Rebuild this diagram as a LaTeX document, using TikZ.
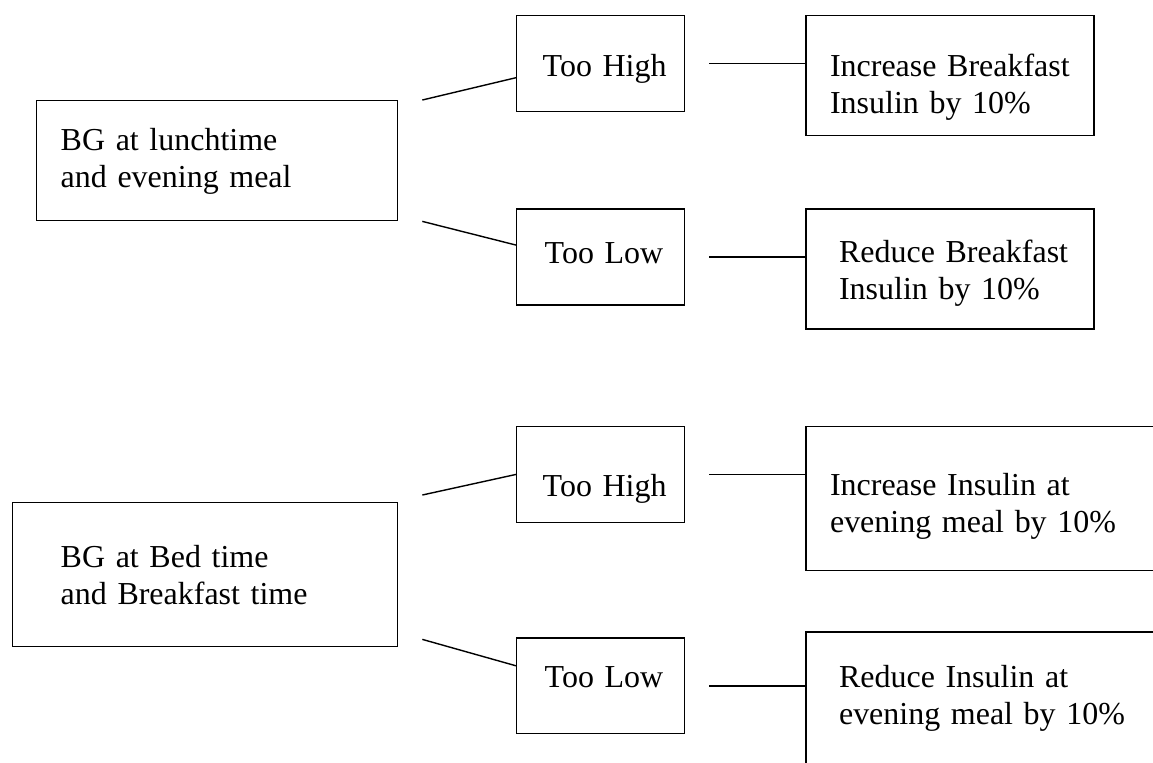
\documentclass[tikz,border=0pt]{standalone}
\usepackage{fontspec}
\setmainfont{Liberation Serif}
\usepackage{tikz}
\usetikzlibrary{positioning}
\hyphenpenalty=10000
\exhyphenpenalty=10000
\tikzset{
	box/.style={draw, line width=0.8pt, align=left, inner ysep=0pt, font=\fontsize{18.2pt}{21.06pt}\selectfont},
	link/.style={line width=0.8pt}
}

\begin{document}
\begin{tikzpicture}[x=0.02cm, y=-0.02cm]
		\useasboundingbox (0,0) rectangle (1153,762);
		\clip (0,0) rectangle (1153,762);
		% upper group
		\node[box, anchor=north west, text width=6.26cm, inner xsep=0.48cm, text height=1cm, text depth=1.4cm] (bg1) at (36,100) {BG at lunchtime\\ and evening meal};
		\node[box, anchor=north west, text width=2.32cm, inner xsep=0.52cm, text height=1.22cm, text depth=0.7cm] (hi1) at (516,15) {Too~High};
		\node[box, below=1.92cm of hi1.south west, anchor=north west, text width=2.24cm, inner xsep=0.56cm, text height=1.08cm, text depth=0.84cm] (lo1) {Too~Low};
		\node[box, right=2.4cm of hi1.north east, anchor=north west, text width=4.8cm, inner xsep=0.48cm, text height=1.22cm, text depth=1.18cm] (incb) {Increase~Breakfast\\ Insulin~by~10\%};
		\node[box, right=2.4cm of lo1.north east, anchor=north west, text width=4.44cm, inner xsep=0.66cm, text height=1.06cm, text depth=1.34cm] (redb) {Reduce~Breakfast\\ Insulin~by~10\%};
		% lower group
		\node[box, anchor=north west, text width=5.78cm, inner xsep=0.96cm, text height=1.3cm, text depth=1.58cm] (bg2) at (12,502) {BG at Bed time\\ and Breakfast time};
		\node[box, below=2.4cm of lo1.south west, anchor=north west, text width=2.32cm, inner xsep=0.52cm, text height=1.4cm, text depth=0.52cm] (hi2) {Too~High};
		\node[box, below=2.28cm of hi2.south west, anchor=north west, text width=2.24cm, inner xsep=0.56cm, text height=1cm, text depth=0.92cm] (lo2) {Too~Low};
		\node[box, right=2.4cm of hi2.north east, anchor=north west, text width=7.04cm, inner xsep=0.48cm, text height=1.38cm, text depth=1.5cm] (inci) {Increase~Insulin~at\\ evening~meal~by~10\%};
		\node[box, above right=0.12cm and 2.4cm of lo2.north east, anchor=north west, text width=6.68cm, inner xsep=0.66cm, text height=1.12cm, text depth=2.34cm] (redi) {Reduce~Insulin~at\\ evening~meal~by~10\%};
		\begin{scope}[every path/.style={link}]
		  \draw ([xshift=0.48cm]bg1.north east) -- ([yshift=-0.28cm]hi1.west);
		  \draw ([xshift=0.48cm]bg1.south east) -- ([yshift=0.24cm]lo1.west);
		  \draw ([xshift=0.48cm]hi1.east) -- (hi1.east -| incb.west);
		  \draw ([xshift=0.48cm]lo1.east) -- (lo1.east -| redb.west);
		  \draw ([shift={(0.48cm,0.14cm)}]bg2.north east) -- (hi2.west);
		  \draw ([shift={(0.48cm,0.16cm)}]bg2.south east) -- ([yshift=0.4cm]lo2.west);
		  \draw ([xshift=0.48cm]hi2.east) -- (hi2.east -| inci.west);
		  \draw ([xshift=0.48cm]lo2.east) -- (lo2.east -| redi.west);
		\end{scope}
	\end{tikzpicture}
\end{document}
